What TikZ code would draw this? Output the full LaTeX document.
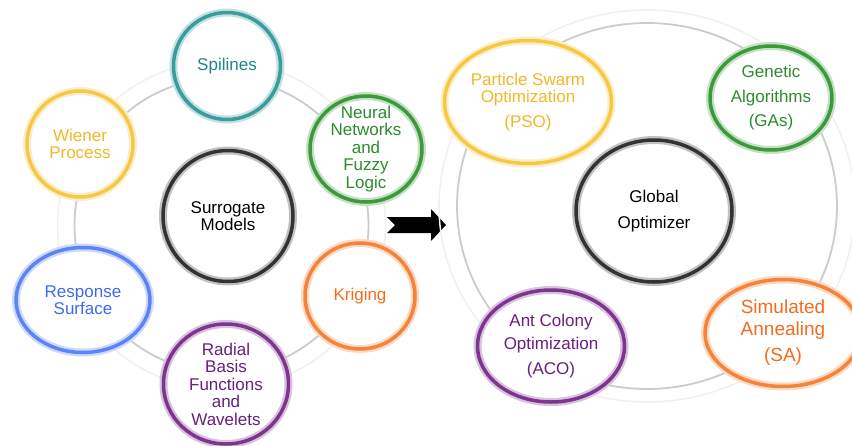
\documentclass[tikz,border=0pt]{standalone}
\usepackage{fontspec}
\setmainfont{Liberation Sans}
\usetikzlibrary{shapes.geometric}
\definecolor{tealc}{HTML}{3A9C9C}
\definecolor{tealt}{HTML}{1F8585}
\definecolor{yellowc}{HTML}{F6C944}
\definecolor{yellowt}{HTML}{F2B828}
\definecolor{greenc}{HTML}{3C9A3C}
\definecolor{greent}{HTML}{2C8C2C}
\definecolor{bluec}{HTML}{5B84F5}
\definecolor{bluet}{HTML}{3E6AF2}
\definecolor{orangec}{HTML}{F5843A}
\definecolor{oranget}{HTML}{F36C1E}
\definecolor{purplec}{HTML}{7E3590}
\definecolor{purplet}{HTML}{6A1F7C}
\definecolor{darkc}{HTML}{333333}
\tikzset{
  ring/.style 2 args={ellipse,draw=#1,line width=3.5pt,text=#2,align=center,inner sep=-6pt,
    preaction={fill=white},preaction={draw=#1!30,line width=8pt},
    font=\fontsize{17}{17.5}\selectfont},
  track/.style={draw=gray!40,line width=1.8pt},
  faint/.style={draw=gray!12,line width=1.5pt}
}

\begin{document}
\begin{tikzpicture}[x=1pt,y=-1pt]
\useasboundingbox (0,0) rectangle (852,445);
% surrogate models
\draw[faint] (221.5,225) circle[radius=164pt];
\draw[track] (221.5,225) circle[radius=147pt];
\node[ring={darkc}{black},minimum width=130pt,minimum height=131pt] (SM) at (228,216) {Surrogate\\Models};
\node[ring={tealc}{tealt},minimum width=107pt,minimum height=107pt] (spl) at (227,66) {Spilines};
\node[ring={yellowc}{yellowt},minimum width=106pt,minimum height=106pt] (wp) at (80,144) {Wiener\\Process};
\node[ring={greenc}{greent},minimum width=112pt,minimum height=106pt] (nn) at (366,149) {Neural\\Networks\\and\\Fuzzy\\Logic};
\node[ring={orangec}{oranget},minimum width=110pt,minimum height=106pt] (kr) at (360,296) {Kriging};
\node[ring={bluec}{bluet},minimum width=134pt,minimum height=105pt] (rs) at (83,300) {Response\\Surface};
\node[ring={purplec}{purplet},minimum width=125pt,minimum height=120pt] (rb) at (226,384) {Radial\\Basis\\Functions\\and\\Wavelets};
% arrow
\coordinate (arr) at (387,217);
\fill[black] (arr) -- ++(44,0) -- ++(0,-8) -- ++(15,16) -- ++(-15,16) -- ++(0,-8) -- ++(-44,0) -- ++(8,-8) -- cycle;
% global optimizer
\draw[faint] (647,206) ellipse[x radius=208pt,y radius=196pt];
\draw[track] (647,206) ellipse[x radius=190pt,y radius=183pt];
\node[ring={darkc}{black},minimum width=156pt,minimum height=142pt] (GO) at (654,211) {Global\\[8pt]Optimizer};
\node[ring={yellowc}{yellowt},minimum width=167pt,minimum height=123pt] (pso) at (528,102) {Particle Swarm\\Optimization\\[7pt](PSO)};
\node[ring={greenc}{greent},minimum width=122pt,minimum height=104pt] (ga) at (771,98) {Genetic\\[7pt]Algorithms\\[7pt](GAs)};
\node[ring={purplec}{purplet},minimum width=147pt,minimum height=112pt] (aco) at (551,346) {Ant Colony\\[6pt]Optimization\\[7pt](ACO)};
\node[ring={orangec}{oranget},minimum width=156pt,minimum height=107pt,font=\fontsize{19}{19.5}\selectfont] (sa) at (783,333) {Simulated\\[2pt]Annealing\\[7pt](SA)};
\end{tikzpicture}
\end{document}
